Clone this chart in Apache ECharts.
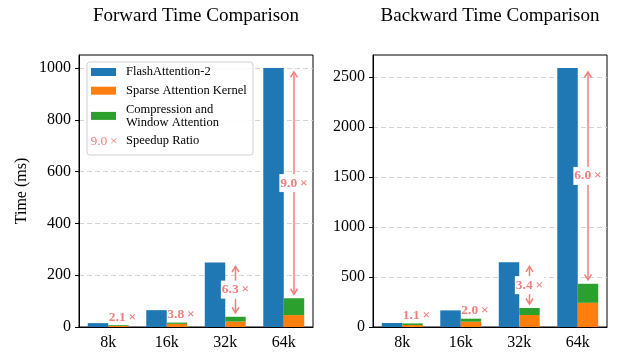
<!DOCTYPE html>
<html>
<head>
<meta charset="utf-8">
<script src="https://cdn.jsdelivr.net/npm/echarts@6/dist/echarts.min.js"></script>
<style>html,body{margin:0;padding:0;background:#fff}#c{width:623px;height:359px}</style>
</head>
<body>
<div id="c"></div>
<script>
const categories = ['8k', '16k', '32k', '64k'];
const seriesNames = ['FlashAttention-2', 'Sparse Attention Kernel', 'Compression and Window Attention', 'Speedup Ratio'];
// Forward (ms)
const fwdFlash = [15, 65, 249, 1000];
const fwdSparse = [4, 12, 21, 46];
const fwdCompWin = [3, 5, 18.5, 65];
const fwdSpeedup = ['2.1', '3.8', '6.3', '9.0'];
const fwdArrow = [false, false, true, true];
const fwdTicks = [0, 200, 400, 600, 800, 1000];
// Backward (ms)
const bwdFlash = [40, 166, 647, 2590];
const bwdSparse = [20, 53, 120, 242];
const bwdCompWin = [16, 30, 70, 190];
const bwdSpeedup = ['1.1', '2.0', '3.4', '6.0'];
const bwdArrow = [false, false, true, true];
const bwdTicks = [0, 500, 1000, 1500, 2000, 2500];

const FONT = 'Liberation Serif';
const BLUE = '#1f77b4', ORANGE = '#ff7f0e', GREEN = '#2ca02c', RED = '#f08080';
const TIMES = '\u2009×';

function annoSeries(gridIdx, flash, sparse, comp, labels, arrows) {
  const data = categories.map((c, i) => [i, flash[i], sparse[i] + comp[i]]);
  return {
    type: 'custom', name: 'Speedup Ratio', xAxisIndex: gridIdx, yAxisIndex: gridIdx,
    z: 10, clip: false, silent: true,
    data: data,
    renderItem: function (params, api) {
      const i = params.dataIndex;
      const top = api.coord([api.value(0), api.value(1)]);
      const bot = api.coord([api.value(0), api.value(2)]);
      const band = api.size([1, 0])[0];
      const x = top[0] + band * 0.175;
      const txt = labels[i] + TIMES;
      const children = [];
      if (arrows[i]) {
        const y1 = top[1] + 4, y2 = bot[1] - 4;
        const ls = { stroke: RED, lineWidth: 1.5, fill: null };
        children.push({ type: 'line', shape: { x1: x, y1: y1, x2: x, y2: y2 }, style: ls });
        children.push({ type: 'polyline', shape: { points: [[x - 3.5, y1 + 5.5], [x, y1], [x + 3.5, y1 + 5.5]] }, style: ls });
        children.push({ type: 'polyline', shape: { points: [[x - 3.5, y2 - 5.5], [x, y2], [x + 3.5, y2 - 5.5]] }, style: ls });
        children.push({ type: 'text', x: x, y: (y1 + y2) / 2,
          style: { text: txt, fill: RED, font: 'bold 13.5px "' + FONT + '"', align: 'center', verticalAlign: 'middle',
                   backgroundColor: '#fff', padding: [2, 1, 2, 1] } });
      } else {
        children.push({ type: 'text', x: x + 4, y: bot[1] - 1,
          style: { text: txt, fill: RED, font: 'bold 13.5px "' + FONT + '"', align: 'center', verticalAlign: 'bottom' } });
      }
      return { type: 'group', children: children };
    }
  };
}

function barSeries(gridIdx, flash, sparse, comp) {
  const st = 'stack' + gridIdx;
  return [
    { type: 'bar', name: seriesNames[0], xAxisIndex: gridIdx, yAxisIndex: gridIdx, data: flash,
      itemStyle: { color: BLUE }, barWidth: '35%', barGap: '0%' },
    { type: 'bar', name: seriesNames[1], xAxisIndex: gridIdx, yAxisIndex: gridIdx, data: sparse, stack: st,
      itemStyle: { color: ORANGE }, barWidth: '35%', barGap: '0%' },
    { type: 'bar', name: seriesNames[2], xAxisIndex: gridIdx, yAxisIndex: gridIdx, data: comp, stack: st,
      itemStyle: { color: GREEN }, barWidth: '35%', barGap: '0%' }
  ];
}

function xAxis(gridIdx) {
  return {
    type: 'category', gridIndex: gridIdx, data: categories,
    axisLine: { lineStyle: { color: '#000', width: 1 } },
    axisTick: { alignWithLabel: true, length: 4, lineStyle: { color: '#000' } },
    axisLabel: { color: '#000', fontFamily: FONT, fontSize: 16, margin: 8 }
  };
}
function yAxis(gridIdx, max, interval, ticks, name) {
  return {
    type: 'value', gridIndex: gridIdx, min: 0, max: max, interval: interval,
    name: name || '', nameLocation: 'middle', nameGap: 49, nameRotate: 90,
    nameTextStyle: { color: '#000', fontFamily: FONT, fontSize: 16 },
    axisLine: { show: true, lineStyle: { color: '#000', width: 1 } },
    axisTick: { show: true, length: 4, lineStyle: { color: '#000' }, customValues: ticks },
    axisLabel: { color: '#000', fontFamily: FONT, fontSize: 16, margin: 8, customValues: ticks,
                 formatter: function (v) { return String(v); } },
    splitLine: { show: true, lineStyle: { color: '#d3d3d3', type: [5, 3], width: 1 } }
  };
}

const chart = echarts.init(document.getElementById('c'), null, { renderer: 'canvas' });
chart.setOption({
  animation: false,
  backgroundColor: '#fff',
  title: [
    { text: 'Forward Time Comparison', left: 196, top: 7, textAlign: 'center', padding: 0,
      textStyle: { fontFamily: FONT, fontSize: 19, fontWeight: 'normal', color: '#000' } },
    { text: 'Backward Time Comparison', left: 490, top: 7, textAlign: 'center', padding: 0,
      textStyle: { fontFamily: FONT, fontSize: 19, fontWeight: 'normal', color: '#000' } }
  ],
  grid: [
    { left: 79, right: 310, top: 55, bottom: 32, show: true, borderColor: '#000', borderWidth: 1 },
    { left: 373, right: 16, top: 55, bottom: 32, show: true, borderColor: '#000', borderWidth: 1 }
  ],
  legend: {
    orient: 'vertical', left: 91, top: 65.5, padding: 0, itemGap: 5.7,
    itemWidth: 25, itemHeight: 8, z: 5,
    data: [
      { name: seriesNames[0], icon: 'rect' },
      { name: seriesNames[1], icon: 'rect' },
      { name: seriesNames[2], icon: 'rect' },
      { name: seriesNames[3], icon: 'none' }
    ],
    formatter: function (n) { return n === seriesNames[2] ? 'Compression and\nWindow Attention' : n; },
    textStyle: { fontFamily: FONT, fontSize: 12.5, lineHeight: 13, color: '#000', padding: [0, 0, 0, 5] }
  },
  graphic: [
    { type: 'rect', z: 3, shape: { x: 87, y: 62, width: 166, height: 93, r: 3 },
      style: { fill: 'rgba(255,255,255,0.85)', stroke: '#d0d0d0', lineWidth: 1 } },
    { type: 'text', z: 6, x: 104, y: 141.5,
      style: { text: fwdSpeedup[3] + TIMES, fill: RED, font: '13.5px "' + FONT + '"', align: 'center', verticalAlign: 'middle' } }
  ],
  xAxis: [xAxis(0), xAxis(1)],
  yAxis: [yAxis(0, 1050, 200, fwdTicks, 'Time (ms)'), yAxis(1, 2720, 500, bwdTicks)],
  series: [
    ...barSeries(0, fwdFlash, fwdSparse, fwdCompWin),
    ...barSeries(1, bwdFlash, bwdSparse, bwdCompWin),
    annoSeries(0, fwdFlash, fwdSparse, fwdCompWin, fwdSpeedup, fwdArrow),
    annoSeries(1, bwdFlash, bwdSparse, bwdCompWin, bwdSpeedup, bwdArrow)
  ]
});
</script>
</body>
</html>
